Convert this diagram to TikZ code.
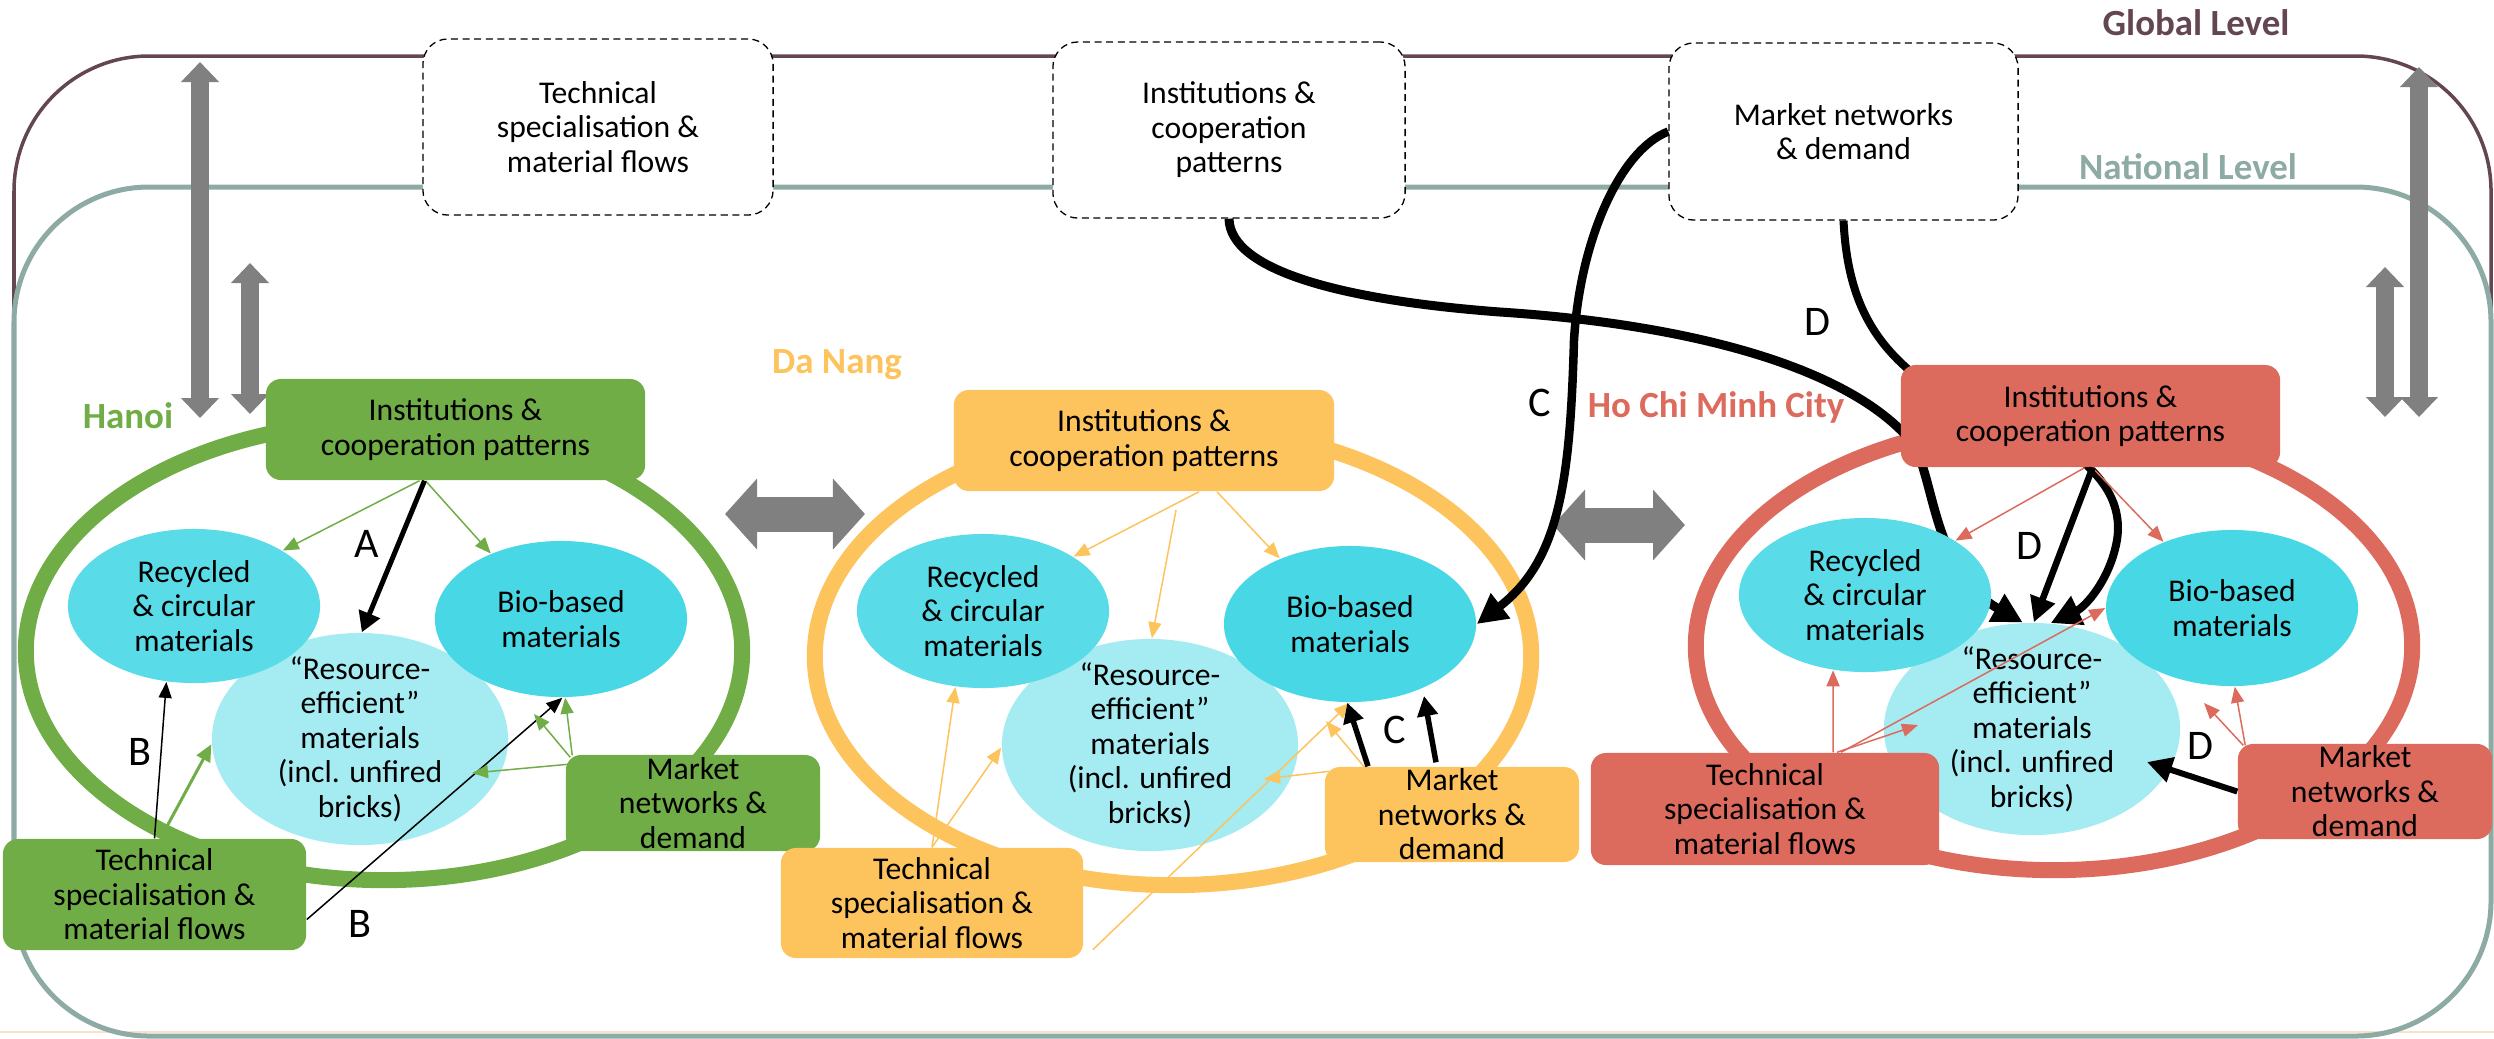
\documentclass[tikz,border=0pt]{standalone}
\usepackage{fontspec}
\setmainfont{Carlito}
\usetikzlibrary{shapes.geometric,arrows.meta,calc}

\definecolor{hanoiG}{HTML}{70AD47}
\definecolor{danangO}{HTML}{FDC35C}
\definecolor{hcmcR}{HTML}{DC6B5E}
\definecolor{globalC}{HTML}{634652}
\definecolor{nationC}{HTML}{8EAAA5}
\definecolor{cyanD}{HTML}{47D7E5}
\definecolor{cyanR}{HTML}{59DBE8}
\definecolor{cyanL}{HTML}{A4EBF2}
\definecolor{greyA}{HTML}{808080}
\definecolor{peachL}{HTML}{F8E3C9}

\newcommand\bxfont{\fontsize{9}{9.8}\selectfont}
\newcommand\lblfont{\fontsize{12}{14}\selectfont}
\newcommand\cityfont{\fontsize{10.5}{12}\selectfont\bfseries}

\begin{document}
\begin{tikzpicture}[x=0.01cm, y=-0.01cm,
  tx/.style={font=\bxfont, align=center, inner sep=0pt},
  box/.style={rectangle, rounded corners=0.15cm, inner sep=0pt},
  gbox/.style={box, rounded corners=0.25cm, draw=black, fill=white, line width=0.013cm, dash pattern=on 2pt off 1.3pt},
  hbox/.style={box, fill=hanoiG},
  dbox/.style={box, fill=danangO},
  cbox/.style={box, fill=hcmcR},
  ring/.style={ellipse, draw, line width=0.16cm, inner sep=0pt, minimum width=7.16cm},
  resm/.style={ellipse, fill=cyanL, inner sep=0pt, minimum width=2.96cm, minimum height=2.12cm},
  recm/.style={ellipse, fill=cyanR, inner sep=0pt, minimum width=2.52cm, minimum height=1.54cm},
  biom/.style={ellipse, fill=cyanD, inner sep=0pt, minimum width=2.52cm, minimum height=1.56cm},
  lvl/.style={font=\cityfont, inner sep=0pt},
  lbl/.style={font=\lblfont, inner sep=0pt},
  thinarr/.style={line width=0.015cm, -{Triangle[length=0.16cm,width=0.13cm]}},
  gthin/.style={thinarr, draw=hanoiG},
  othin/.style={thinarr, draw=danangO},
  rthin/.style={thinarr, draw=hcmcR},
  bthin/.style={thinarr, draw=black},
  gthick/.style={draw=hanoiG, line width=0.03cm, -{Triangle[length=0.17cm,width=0.15cm]}},
  blkA/.style={draw=black, line width=0.05cm, -{Triangle[length=0.2cm,width=0.22cm]}},
  blkC/.style={draw=black, line width=0.055cm, -{Triangle[length=0.2cm,width=0.2cm]}},
  blkD/.style={draw=black, line width=0.06cm, -{Triangle[length=0.25cm,width=0.25cm]}},
  bigcurve/.style={draw=black, line width=0.085cm, -{Triangle[length=0.3cm,width=0.3cm]}},
  gvert/.style={draw=greyA, line width=0.18cm, {Triangle[length=0.2cm,width=0.37cm]}-{Triangle[length=0.2cm,width=0.37cm]}},
  ghorz/.style={draw=greyA, line width=0.35cm, {Triangle[length=0.32cm,width=0.69cm]}-{Triangle[length=0.32cm,width=0.69cm]}}
]
\useasboundingbox (0,0) rectangle (2494,1038);

% ---------- level frames ----------
\draw[peachL, line width=0.02cm] (0,1032) -- (2494,1032);
\draw[globalC, line width=0.035cm, rounded corners=1.35cm] (14,56) rectangle (2491,1036);
\draw[nationC, line width=0.05cm, rounded corners=1.35cm] (14,187) rectangle (2491,1036);

\node[lvl, text=globalC] (globalLbl) at (2196,23) {Global Level};
\node[lvl, text=nationC] (nationLbl) at (2188,167) {National Level};

% ---------- global-level factors ----------
\node[gbox, minimum width=3.5cm, minimum height=1.76cm,
  label={[tx]center:{Technical\\specialisation \&\\material flows}}] (gTech) at (598,127) {};
\node[gbox, minimum width=3.52cm, minimum height=1.76cm,
  label={[tx]center:{Institutions \&\\cooperation\\patterns}}] (gInst) at (1229,130) {};
\node[gbox, minimum width=3.49cm, minimum height=1.77cm,
  label={[tx]center:{Market networks\\\& demand}}] (gMkt) at (1843.5,131.5) {};

% ---------- grey level / city links ----------
\coordinate (gvL1a) at (200,62);   \coordinate (gvL1b) at (200,418);
\coordinate (gvL2a) at (250,263);  \coordinate (gvL2b) at (250,414);
\coordinate (gvR1a) at (2419,67);  \coordinate (gvR1b) at (2419,417);
\coordinate (gvR2a) at (2385,267); \coordinate (gvR2b) at (2385,417);
\coordinate (ghL1) at (725,514);   \coordinate (ghL2) at (865,514);
\coordinate (ghR1) at (1553,525);  \coordinate (ghR2) at (1685,525);
\draw[gvert] (gvL1a) -- (gvL1b);
\draw[gvert] (gvL2a) -- (gvL2b);
\draw[gvert] (gvR1a) -- (gvR1b);
\draw[gvert] (gvR2a) -- (gvR2b);
\draw[ghorz] (ghL1) -- (ghL2);
\draw[ghorz] (ghR1) -- (ghR2);

% ---------- city rings ----------
\node[ring, draw=hanoiG, minimum height=4.58cm] (hRing) at (384,651) {};
\node[ring, draw=danangO, minimum height=4.58cm] (dRing) at (1173,656) {};
\node[ring, draw=hcmcR, minimum height=4.48cm] (cRing) at (2054,646) {};

% ---------- material types ----------
\node[resm, label={[tx]center:{“Resource-\\efficient”\\materials\\(incl. unfired\\bricks)}}] (hRes) at (360,739) {};
\node[resm, label={[tx]center:{“Resource-\\efficient”\\materials\\(incl. unfired\\bricks)}}] (dRes) at (1150,745) {};
\node[resm, label={[tx]center:{“Resource-\\efficient”\\materials\\(incl. unfired\\bricks)}}] (cRes) at (2032,729) {};

\node[recm, label={[tx]center:{Recycled\\\& circular\\materials}}] (hRec) at (194,606) {};
\node[biom, label={[tx]center:{Bio-based\\materials}}] (hBio) at (561,619) {};
\node[recm, label={[tx]center:{Recycled\\\& circular\\materials}}] (dRec) at (983,611) {};
\node[biom, label={[tx]center:{Bio-based\\materials}}] (dBio) at (1350,624) {};

% ---------- long links from the global level ----------
\draw[bigcurve] (gMkt.west) .. controls (1620,150) and (1580,240) .. (1574,340)
  .. controls (1570,480) and (1560,560) .. (dBio.0);
\draw[bigcurve, line width=0.09cm] (gInst.south) .. controls (1230,270) and (1340,300) .. (1500,312)
  .. controls (1700,325) and (1850,370) .. (1910,440)
  .. controls (1935,470) and (1930,570) .. (cRes.95);
\draw[bigcurve, line width=0.08cm] (gMkt.south) .. controls (1848,310) and (1880,360) .. (1960,405)
  .. controls (2085,440) and (2125,490) .. (2117,540)
  .. controls (2110,580) and (2085,607) .. (cRes.80);

\node[recm, label={[tx]center:{Recycled\\\& circular\\materials}}] (cRec) at (1865,595) {};
\node[biom, label={[tx]center:{Bio-based\\materials}}] (cBio) at (2232,608) {};

% ---------- city factor boxes ----------
\node[hbox, minimum width=3.79cm, minimum height=1.01cm,
  label={[tx]center:{Institutions \&\\cooperation patterns}}] (hInst) at (455.5,429.5) {};
\node[hbox, minimum width=3.03cm, minimum height=1.11cm,
  label={[tx]center:{Technical\\specialisation \&\\material flows}}] (hTech) at (154.5,894.5) {};
\node[hbox, minimum width=2.54cm, minimum height=0.96cm,
  label={[tx]center:{Market\\networks \&\\demand}}] (hMkt) at (693,803) {};

\node[dbox, minimum width=3.8cm, minimum height=1.01cm,
  label={[tx]center:{Institutions \&\\cooperation patterns}}] (dInst) at (1144,440.5) {};
\node[dbox, minimum width=3.02cm, minimum height=1.1cm,
  label={[tx]center:{Technical\\specialisation \&\\material flows}}] (dTech) at (932,903) {};
\node[dbox, minimum width=2.54cm, minimum height=0.95cm,
  label={[tx]center:{Market\\networks \&\\demand}}] (dMkt) at (1452,814.5) {};

\node[cbox, minimum width=3.79cm, minimum height=1.02cm,
  label={[tx]center:{Institutions \&\\cooperation patterns}}] (cInst) at (2090.5,416) {};
\node[cbox, minimum width=3.48cm, minimum height=1.12cm,
  label={[tx]center:{Technical\\specialisation \&\\material flows}}] (cTech) at (1765,809) {};
\node[cbox, minimum width=2.54cm, minimum height=0.95cm,
  label={[tx]center:{Market\\networks \&\\demand}}] (cMkt) at (2365,791.5) {};

% ---------- Hanoi links ----------
\draw[gthin] ($(hInst.south)+(-36,0)$) -- (hRec.32);
\draw[gthin] ($(hInst.south)+(-30,0)$) -- (hBio.137);
\draw[blkA] ($(hInst.south)+(-31,0)$) -- (hRes.89);
\draw[bthin] (hTech.north) -- (hRec.250);
\draw[gthick] ($(hTech.north)+(6,0)$) -- (hRes.182);
\draw[bthin] ($(hTech.east)+(0,25)$) -- (hBio.271);
\coordinate (hTipBio) at (534,714);
\coordinate (hTipRes) at (472,773);
\draw[gthin] ($(hMkt.north west)+(7,1)$) -- (hBio.273);
\draw[gthin] ($(hMkt.north west)+(5,3)$) -- (hTipBio);
\draw[gthin] ($(hMkt.north west)+(3,10)$) -- (hTipRes);

% ---------- Da Nang links ----------
\coordinate (dInstFree) at (1176,510);
\draw[othin] ($(dInst.south)+(55,0)$) -- (dRec.31);
\draw[othin] (dInstFree) -- (dRes.89);
\draw[othin] ($(dInst.south)+(73,0)$) -- (dBio.137);
\draw[othin] (dTech.north) -- (dRec.250);
\draw[othin] (dTech.north) -- (dRes.181);
\draw[othin] ($(dTech.south east)+(9,-9)$) -- (dBio.270);
\coordinate (dTipRes) at (1264,779);
\coordinate (dTipBio) at (1326,721);
\draw[othin] ($(dMkt.north west)+(5,5)$) -- (dTipRes);
\draw[othin] ($(dMkt.north west)+(42,3)$) -- (dTipBio);
\coordinate (dTipC) at (1424,696);
\draw[blkC] ($(dMkt.north)+(-84,0)$) -- (dBio.268);
\draw[blkC] ($(dMkt.north)+(-16,-4)$) -- (dTipC);

% ---------- Ho Chi Minh City links ----------
\draw[rthin] ($(cInst.south)+(-6,0)$) -- (cRec.31);
\draw[rthin] ($(cInst.south)+(2,0)$) -- (cBio.136);
\draw[blkD, line width=0.065cm] ($(cInst.south)+(2,0)$) -- (cRes.89);
\coordinate (cTipRes) at (1918,725);
\draw[rthin] ($(cTech.north)+(68,0)$) -- (cRec.247);
\draw[rthin] ($(cTech.north)+(72,0)$) -- (cTipRes);
\draw[rthin] ($(cTech.north)+(76,0)$) -- (cBio.180);
\coordinate (cTipBio) at (2204,703);
\draw[rthin] ($(cMkt.north west)+(8,2)$) -- (cBio.272);
\draw[rthin] ($(cMkt.north west)+(6,2)$) -- (cTipBio);
\coordinate (cTipD) at (2147,762);
\draw[blkD] (cMkt.west) -- (cTipD);

% ---------- letters on the links ----------
\node[lbl] (labA) at (367,544) {A};
\node[lbl] (labB1) at (140,752) {B};
\node[lbl] (labB2) at (360,924) {B};
\node[lbl] (labC1) at (1395,730) {C};
\node[lbl] (labC2) at (1540,403) {C};
\node[lbl] (labD1) at (1817,322) {D};
\node[lbl] (labD2) at (2029,546) {D};
\node[lbl] (labD3) at (2200,746) {D};

% ---------- city names ----------
\node[lvl, text=hanoiG] (hName) at (128,416) {Hanoi};
\node[lvl, text=danangO] (dName) at (837,365) {Da Nang};
\node[lvl, text=hcmcR] (cName) at (1716,407) {Ho Chi Minh City};
\end{tikzpicture}
\end{document}
